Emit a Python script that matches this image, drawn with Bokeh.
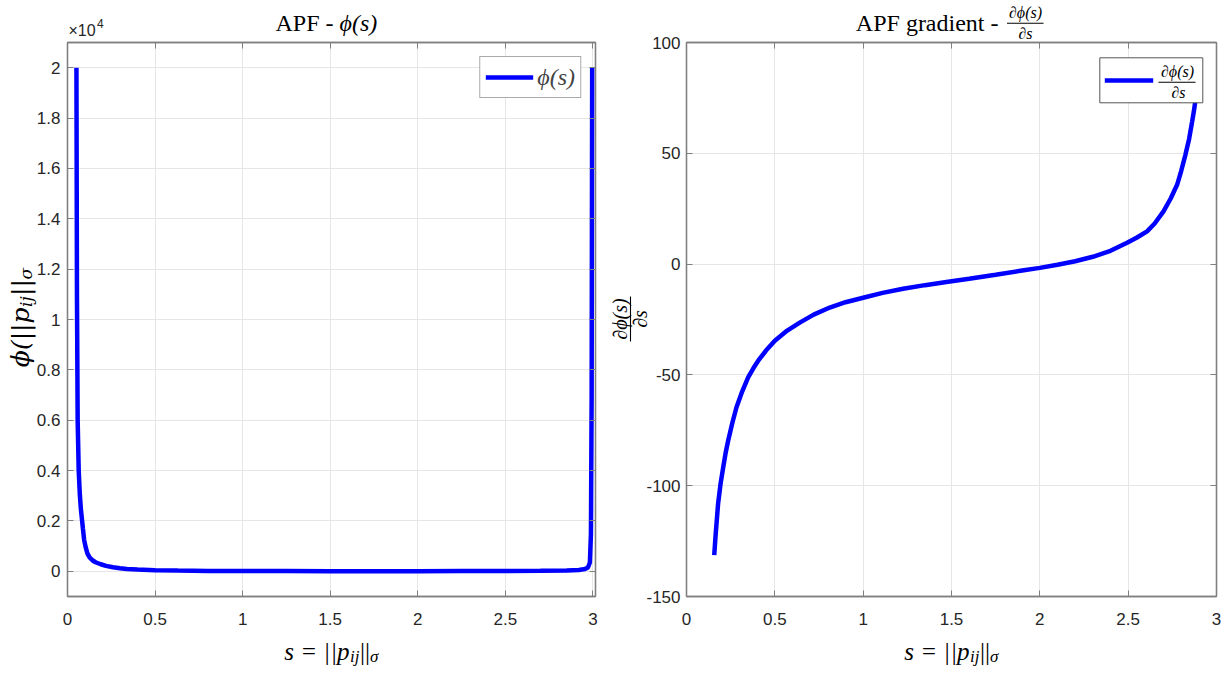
import math
from bokeh.plotting import figure
from bokeh.models import (Range1d, LinearAxis, FixedTicker, Legend, LegendItem,
                          CustomJSTickFormatter, ColumnDataSource)
from bokeh.layouts import row
from bokeh.embed import file_html
from bokeh.resources import INLINE
from bokeh.core.properties import value

# ---------------- data ----------------
s_phi = [0.051, 0.054, 0.058, 0.064, 0.070, 0.076, 0.082, 0.088, 0.095, 0.104,
         0.114, 0.127, 0.142, 0.160, 0.190, 0.220, 0.260, 0.300, 0.340, 0.400,
         0.500, 0.630, 0.800, 1.00, 1.25, 1.50, 1.75, 2.00, 2.25, 2.50,
         2.70, 2.85, 2.92, 2.955, 2.972, 2.983, 2.989, 2.993, 2.996]
phi = [20000, 11000, 6000, 4000, 3100, 2500, 2100, 1700, 1250, 950,
       700, 540, 440, 360, 280, 215, 160, 120, 95, 70,
       45, 28, 17, 11, 8, 6, 6, 7, 9, 13,
       20, 35, 55, 90, 150, 350, 1500, 7000, 20000]

s_grad = [0.157, 0.165, 0.179, 0.193, 0.208, 0.222, 0.236, 0.260, 0.283, 0.315,
          0.349, 0.380, 0.406, 0.450, 0.500, 0.570, 0.641, 0.720, 0.811, 0.900,
          1.000, 1.110, 1.226, 1.350, 1.471, 1.600, 1.750, 1.900, 2.000, 2.100,
          2.200, 2.300, 2.400, 2.494, 2.550, 2.607, 2.650, 2.700, 2.740, 2.777,
          2.800, 2.824, 2.845, 2.862, 2.872, 2.881, 2.889, 2.895]
dphi = [-131.3, -122.0, -108.0, -99.0, -91.6, -85.0, -79.6, -71.5, -64.6, -57.5,
        -51.1, -46.8, -43.6, -39.0, -34.6, -30.0, -26.4, -22.8, -19.6, -17.2,
        -15.2, -13.0, -11.1, -9.5, -8.1, -6.6, -4.8, -2.9, -1.7, -0.3,
        1.3, 3.3, 6.0, 9.6, 12.0, 14.8, 18.3, 23.8, 29.5, 35.8,
        42.0, 49.3, 56.5, 64.3, 69.0, 74.0, 80.0, 86.0]

x_ticks = [0, 0.5, 1, 1.5, 2, 2.5, 3]
x_tick_labels = ["0", "0.5", "1", "1.5", "2", "2.5", "3"]
phi_ticks = [0, 2000, 4000, 6000, 8000, 10000, 12000, 14000, 16000, 18000, 20000]
phi_tick_labels = ["0", "0.2", "0.4", "0.6", "0.8", "1", "1.2", "1.4", "1.6", "1.8", "2"]
grad_ticks = [-150, -100, -50, 0, 50, 100]
grad_tick_labels = ["-150", "-100", "-50", "0", "50", "100"]

# ---------------- styling ----------------
SANS = "Liberation Sans"
SERIF = "Liberation Serif"
WIDE_SERIF = "DejaVu Serif"
AX = "#7f7f7f"
TXT = "#262626"
GRID = "#e6e6e6"
BLUE = "#0000ff"
LEG_BORDER = "#555555"
H = 673
FT, FB = 42, 596  # frame top / bottom (page px)


def fmt(ticks, labels):
    return CustomJSTickFormatter(args=dict(tv=ticks, tl=labels),
                                 code="const i = tv.indexOf(tick); return i >= 0 ? tl[i] : '';")


def make_fig(width, fl, fr, xr, yr, xt, xl, yt, yl):
    p = figure(width=width, height=H, x_range=Range1d(*xr), y_range=Range1d(*yr),
               output_backend="svg", toolbar_location=None,
               min_border_left=fl, min_border_right=width - fr,
               min_border_top=FT, min_border_bottom=H - FB)
    p.background_fill_color = "white"
    p.border_fill_color = "white"
    p.outline_line_color = AX
    p.outline_line_width = 1.3
    for ax, ticks, labels in ((p.xaxis[0], xt, xl), (p.yaxis[0], yt, yl)):
        ax.ticker = FixedTicker(ticks=ticks)
        ax.formatter = fmt(ticks, labels)
        ax.major_tick_in = 6
        ax.major_tick_out = 0
        ax.minor_tick_in = 0
        ax.minor_tick_out = 0
        ax.axis_line_color = AX
        ax.axis_line_width = 1.3
        ax.major_tick_line_color = AX
        ax.major_label_text_font = SANS
        ax.major_label_text_font_size = "17px"
        ax.major_label_text_color = TXT
    p.xaxis[0].major_label_standoff = 16
    p.yaxis[0].major_label_standoff = 7
    for side, ticks in (("above", xt), ("right", yt)):
        ax = LinearAxis(ticker=FixedTicker(ticks=ticks), formatter=CustomJSTickFormatter(code="return '';"),
                        major_tick_in=6, major_tick_out=0, minor_tick_in=0, minor_tick_out=0,
                        major_label_standoff=0, axis_line_color=AX, axis_line_width=1.3,
                        major_tick_line_color=AX, major_label_text_font_size="1px")
        p.add_layout(ax, side)
    p.xgrid.ticker = FixedTicker(ticks=xt)
    p.ygrid.ticker = FixedTicker(ticks=yt)
    p.xgrid.grid_line_color = GRID
    p.ygrid.grid_line_color = GRID
    return p


class Geo:
    """page-pixel -> data converter for one figure"""
    def __init__(self, p, off, fl, fr, xr, yr):
        self.p, self.off, self.fl, self.fw, self.xr, self.yr = p, off, fl, fr - fl, xr, yr

    def xd(self, px):
        return self.xr[0] + (px - self.off - self.fl) / self.fw * (self.xr[1] - self.xr[0])

    def yd(self, py):
        return self.yr[1] - (py - FT) / (FB - FT) * (self.yr[1] - self.yr[0])

    def text(self, t, px, py, size, style="normal", align="left", angle=0, font=SERIF,
             color="black", level="overlay"):
        k = 0.3 * size  # baseline correction of the renderer
        if angle == 0:
            py -= k
        else:
            px -= k
        self.p.text(x=[self.xd(px)], y=[self.yd(py)], text=[t],
                    text_font=value(font), text_font_size=value(f"{size}px"),
                    text_font_style=value(style), text_align=value(align),
                    text_baseline=value("alphabetic"), angle=math.radians(angle),
                    text_color=color, level=level)

    def bar(self, x0, x1, y0, y1, w=1.1, color="black", level="overlay"):
        self.p.segment(x0=[self.xd(x0)], y0=[self.yd(y0)], x1=[self.xd(x1)], y1=[self.yd(y1)],
                       line_color=color, line_width=w, level=level)

    def box(self, x0, x1, y0, y1):
        self.p.quad(left=[self.xd(x0)], right=[self.xd(x1)], top=[self.yd(y0)], bottom=[self.yd(y1)],
                    fill_color="white", line_color=LEG_BORDER, line_width=1)


# ---------------- left panel ----------------
L_FL, L_FR, L_W = 67, 595, 600
LX, LY = (0, 3.015), (-1000, 21000)
p1 = make_fig(L_W, L_FL, L_FR, LX, LY, x_ticks, x_tick_labels, phi_ticks, phi_tick_labels)
src1 = ColumnDataSource(dict(s=s_phi, v=phi))
r1 = p1.line("s", "v", source=src1, line_color=BLUE, line_width=4.5)
leg1 = Legend(items=[LegendItem(label="ϕ(s)", renderers=[r1])], location="top_right",
              margin=14, padding=5, glyph_width=48, glyph_height=30, label_standoff=4,
              label_text_font=SERIF, label_text_font_size="24px", label_text_font_style="italic",
              border_line_color=LEG_BORDER, border_line_width=1, background_fill_alpha=1.0,
              level="underlay")
p1.add_layout(leg1)
g1 = Geo(p1, 0, L_FL, L_FR, LX, LY)

g1.text("APF -", 333, 30, 24, align="right")
g1.text("ϕ(s)", 339, 30, 24, style="italic")
g1.text("×10", 68, 35, 16, font=SANS, color=TXT)
g1.text("4", 96.5, 27, 12, font=SANS, color=TXT)
cxl = (L_FL + L_FR) / 2
g1.text("s = ||p", cxl + 18, 658, 25, style="italic", align="right")
g1.text("ij", cxl + 18.5, 661, 17, style="italic")
g1.text("||", cxl + 28.5, 658, 25)
g1.text("σ", cxl + 38.5, 661, 17, style="italic")
# rotated y label (reads bottom -> top)
g1.text("ϕ(||p", 27, 307, 25, style="italic", align="right", angle=90, font=WIDE_SERIF)
g1.text("ij", 31, 306.5, 17, style="italic", angle=90, font=WIDE_SERIF)
g1.text("||", 27, 295.5, 25, angle=90, font=WIDE_SERIF)
g1.text("σ", 31, 279, 17, style="italic", angle=90, font=WIDE_SERIF)

# ---------------- right panel ----------------
OFF = 600
R_FL, R_FR, R_W = 686 - OFF, 1216 - OFF, 1232 - OFF
RX, RY = (0, 3), (-150, 100)
p2 = make_fig(R_W, R_FL, R_FR, RX, RY, x_ticks, x_tick_labels, grad_ticks, grad_tick_labels)
p2.yaxis[0].major_label_standoff = 6
src2 = ColumnDataSource(dict(s=s_grad, v=dphi))
r2 = p2.line("s", "v", source=src2, line_color=BLUE, line_width=4.5)
g2 = Geo(p2, OFF, R_FL, R_FR, RX, RY)

# legend (box, line sample and fraction label), drawn over the curve
g2.box(1099.3, 1202.3, 57.3, 102.3)
g2.bar(1104.3, 1152.7, 80, 80, w=4.5, color=BLUE, level="glyph")
g2.text("∂ϕ(s)", 1177, 76, 16, style="italic", align="center", level="glyph")
g2.bar(1158, 1195, 81.7, 81.7, level="glyph")
g2.text("∂s", 1178, 96.7, 16, style="italic", align="center", level="glyph")

# title
g2.text("APF gradient -", 998, 29.5, 24, align="right")
g2.text("∂ϕ(s)", 1025, 16.5, 16, style="italic", align="center")
g2.bar(1006.5, 1043, 22.7, 22.7)
g2.text("∂s", 1025, 37.5, 16, style="italic", align="center")
# x label
cxr = 951
g2.text("s = ||p", cxr + 18, 658, 25, style="italic", align="right")
g2.text("ij", cxr + 18.5, 661, 17, style="italic")
g2.text("||", cxr + 28.5, 658, 25)
g2.text("σ", cxr + 38.5, 661, 17, style="italic")
# y label (rotated fraction)
g2.text("∂ϕ(s)", 625, 318.5, 20, style="italic", align="center", angle=90)
g2.bar(630, 630, 296, 341)
g2.text("∂s", 645.5, 318.5, 20, style="italic", align="center", angle=90)

layout = row(p1, p2)
open("out.html", "w").write(file_html(layout, INLINE))
